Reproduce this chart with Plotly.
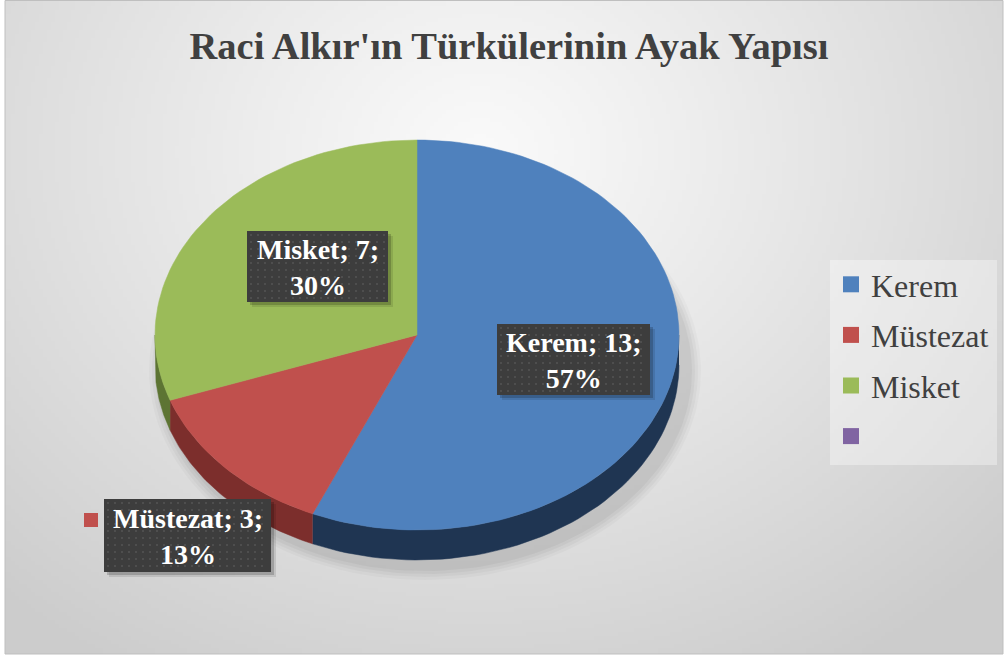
import numpy as np
import plotly.graph_objects as go
import zlib, struct, base64

# ---------------- data ----------------
categories = ["Kerem", "Müstezat", "Misket", ""]
values = [13, 3, 7, 0]
top_colors = ["#4f81bd", "#c0504d", "#9bbb59", "#8064a2"]
side_colors = ["#1f3552", "#7c2e2c", "#5d7433", "#4d3c62"]
title_text = "Raci Alkır'ın Türkülerinin Ayak Yapısı"

# ---------------- layout constants (pixel space) ----------------
W, H = 1005, 658
cx, cy, ra, rb, depth = 417, 335, 262, 195, 30
# label box rectangles: x0, x1, y0, y1
label_boxes = {
    "Kerem": (497, 650, 324, 395),
    "Müstezat": (104, 271, 499, 572),
    "Misket": (247, 388, 231, 302),
}


def png_uri(arr):
    h, w, _ = arr.shape
    raw = b"".join(b"\x00" + arr[i].tobytes() for i in range(h))

    def chunk(t, d):
        c = struct.pack(">I", len(d)) + t + d
        return c + struct.pack(">I", zlib.crc32(t + d) & 0xffffffff)

    png = b"\x89PNG\r\n\x1a\n" + chunk(b"IHDR", struct.pack(">IIBBBBB", w, h, 8, 2, 0, 0, 0))
    png += chunk(b"IDAT", zlib.compress(raw, 9)) + chunk(b"IEND", b"")
    return "data:image/png;base64," + base64.b64encode(png).decode()


# radial gray gradient background
gw, gh = 250, 164
yy, xx = np.mgrid[0:gh, 0:gw]
px = xx / (gw - 1) * 998 + 5
py = yy / (gh - 1) * 654
d = np.sqrt(((px - 480) / 1.0) ** 2 + ((py - 150) / 0.85) ** 2)
t = np.clip(d / 720, 0, 1)
g = (250 - 46 * t ** 1.1).astype(np.uint8)
bg = np.stack([g, g, g], axis=-1)

fig = go.Figure()


def pt(theta, dy=0.0):
    r = np.radians(theta)
    return cx + ra * np.sin(r), cy - rb * np.cos(r) + dy


# soft shadow under pie
for k, op in enumerate([0.025, 0.03, 0.035, 0.04]):
    th = np.linspace(0, 360, 181)
    grow = 14 - k * 3
    xs = cx + 8 + (ra + grow) * np.sin(np.radians(th))
    ys = cy + depth + 6 - (rb + grow) * np.cos(np.radians(th))
    fig.add_trace(go.Scatter(x=xs, y=ys, fill="toself", mode="lines", line=dict(width=0),
                             fillcolor=f"rgba(0,0,0,{op})", hoverinfo="skip", showlegend=False))

total = sum(values)
angles = np.cumsum([0] + [v / total * 360 for v in values])

# side faces (front half only: 90..270 deg)
for i, v in enumerate(values):
    if v == 0:
        continue
    s, e = max(angles[i], 90), min(angles[i + 1], 270)
    if e <= s:
        continue
    th = np.linspace(s, e, 60)
    tx, ty = pt(th)
    bx, by = pt(th[::-1], depth)
    fig.add_trace(go.Scatter(x=np.r_[tx, bx], y=np.r_[ty, by], fill="toself", mode="lines",
                             line=dict(width=0.5, color=side_colors[i]), fillcolor=side_colors[i],
                             hoverinfo="skip", showlegend=False))

# top faces
for i, v in enumerate(values):
    if v == 0:
        continue
    th = np.linspace(angles[i], angles[i + 1], max(int(v / total * 200), 10))
    ax_, ay_ = pt(th)
    fig.add_trace(go.Scatter(x=np.r_[cx, ax_, cx], y=np.r_[cy, ay_, cy], fill="toself", mode="lines",
                             line=dict(width=0.5, color=top_colors[i]), fillcolor=top_colors[i],
                             name=categories[i], hoverinfo="skip", showlegend=False))

# data label boxes
annotations = []
for i, cat in enumerate(categories):
    if cat not in label_boxes:
        continue
    x0, x1, y0, y1 = label_boxes[cat]
    for off, op in [(5, 0.1), (3, 0.18)]:
        fig.add_trace(go.Scatter(x=[x0 + off, x1 + off, x1 + off, x0 + off, x0 + off],
                                 y=[y0 + off, y0 + off, y1 + off, y1 + off, y0 + off],
                                 fill="toself", mode="lines", line=dict(width=0),
                                 fillcolor=f"rgba(0,0,0,{op})", hoverinfo="skip", showlegend=False))
    fig.add_trace(go.Scatter(x=[x0, x1, x1, x0, x0], y=[y0, y0, y1, y1, y0], fill="toself",
                             mode="lines", line=dict(width=0), fillcolor="#3d3d3d",
                             hoverinfo="skip", showlegend=False))
    gx, gy = np.meshgrid(np.arange(x0 + 4, x1 - 2, 7), np.arange(y0 + 4, y1 - 2, 7))
    fig.add_trace(go.Scatter(x=gx.ravel(), y=gy.ravel(), mode="markers",
                             marker=dict(symbol="square", size=2, color="rgba(255,255,255,0.09)", line=dict(width=0)),
                             hoverinfo="skip", showlegend=False))
    pct = round(values[i] / total * 100)
    annotations.append(dict(x=(x0 + x1) / 2, y=(y0 + y1) / 2 + 1, xref="x", yref="y", showarrow=False,
                            text=f"<b>{cat}; {values[i]};<br>{pct}%</b>",
                            font=dict(family="Liberation Serif", size=28, color="white")))

# legend key next to Müstezat label
fig.add_trace(go.Scatter(x=[91], y=[520], mode="markers",
                         marker=dict(symbol="square", size=14, color=top_colors[1], line=dict(width=0)),
                         hoverinfo="skip", showlegend=False))

# legend entries
for i, cat in enumerate(categories):
    fig.add_trace(go.Scatter(x=[None], y=[None], mode="markers", name=cat if cat else " ",
                             legendgroup=f"g{i}",
                             marker=dict(symbol="square", size=16, color=top_colors[i], line=dict(width=0))))

fig.update_layout(
    width=W, height=H,
    margin=dict(l=0, r=0, t=0, b=0),
    paper_bgcolor="white", plot_bgcolor="rgba(0,0,0,0)",
    xaxis=dict(range=[0, W], visible=False, fixedrange=True),
    yaxis=dict(range=[H, 0], visible=False, fixedrange=True),
    title=dict(text=f"<b>{title_text}</b>", x=509 / W, xanchor="center", y=1 - 46 / H, yanchor="middle",
               font=dict(family="Liberation Serif", size=38.5, color="#404040")),
    legend=dict(x=831 / W, y=1 - 257 / H, xanchor="left", yanchor="top", bgcolor="rgba(0,0,0,0)",
                font=dict(family="Liberation Serif", size=32, color="#404040"),
                tracegroupgap=6, itemclick=False, itemdoubleclick=False),
    images=[dict(source=png_uri(bg), xref="paper", yref="paper", x=5 / W, y=1, sizex=998 / W,
                 sizey=654 / H, xanchor="left", yanchor="top", sizing="stretch", layer="below")],
    shapes=[
        dict(type="rect", xref="x", yref="y", x0=830, x1=997, y0=260, y1=465,
             fillcolor="rgba(255,255,255,0.35)", line=dict(width=0), layer="above"),
        dict(type="rect", xref="x", yref="y", x0=5, x1=1003, y0=0.5, y1=654,
             line=dict(color="#bfbfbf", width=1), layer="above"),
    ],
    annotations=annotations,
    showlegend=True,
)

fig.write_html("out.html", config={"displayModeBar": False},
               post_script="document.body.style.margin='0';document.body.style.overflow='hidden';")
